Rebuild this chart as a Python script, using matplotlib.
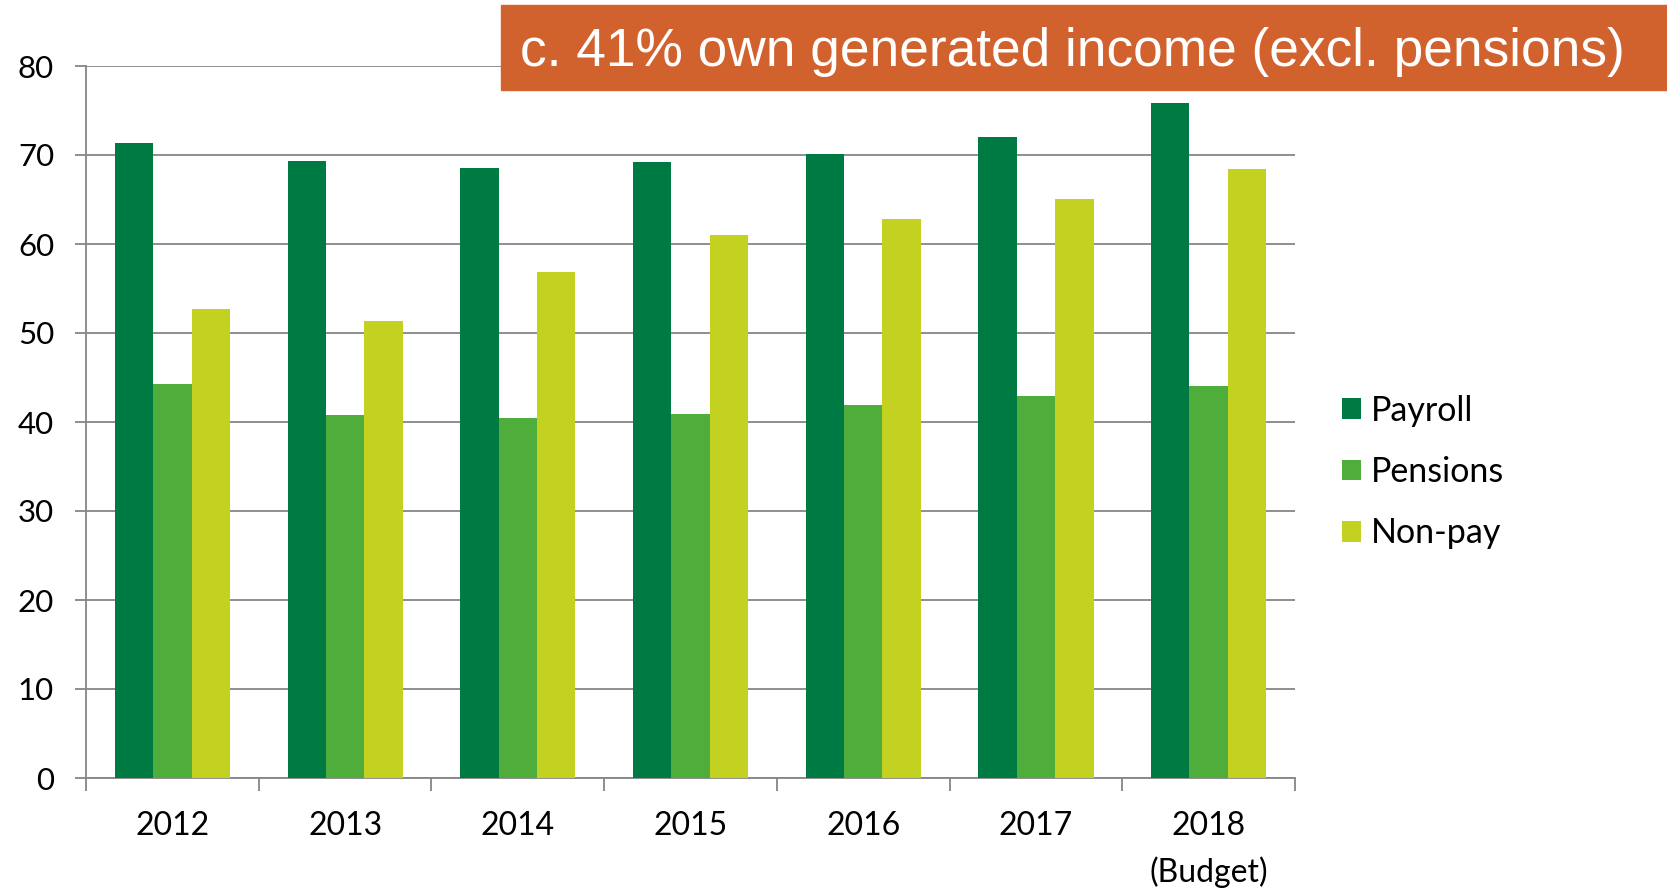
import matplotlib
matplotlib.use("Agg")
import matplotlib.pyplot as plt
import numpy as np
from matplotlib.patches import Rectangle

categories = ["2012", "2013", "2014", "2015", "2016", "2017", "2018\n(Budget)"]
series_names = ["Payroll", "Pensions", "Non-pay"]
payroll = [71.3, 69.3, 68.5, 69.2, 70.1, 72.0, 75.8]
pensions = [44.3, 40.8, 40.4, 40.9, 41.9, 42.9, 44.0]
nonpay = [52.7, 51.4, 56.9, 61.0, 62.8, 65.1, 68.4]
colors = ["#007A43", "#4EAD3B", "#C3D121"]
yticks = [0, 10, 20, 30, 40, 50, 60, 70, 80]
title_text = "c. 41% own generated income (excl. pensions)"

W, H = 1667, 890
fig = plt.figure(figsize=(W / 100, H / 100), dpi=100)
ax = fig.add_axes([86 / W, 1 - 778 / H, (1295 - 86) / W, (778 - 66) / H])

x = np.arange(len(categories))
bw = 1 / 4.5
for i, (vals, name, c) in enumerate(zip([payroll, pensions, nonpay], series_names, colors)):
    ax.bar(x + (i - 1) * bw, vals, width=bw, color=c, label=name, zorder=3,
           edgecolor="none")

ax.set_xlim(-0.5, len(categories) - 0.5)
ax.set_ylim(0, 80)
ax.set_yticks(yticks)
grid_col = "#868686"
ax.yaxis.grid(True, color=grid_col, linewidth=1.3, zorder=0)
ax.set_axisbelow(True)
for s in ["top", "right"]:
    ax.spines[s].set_visible(False)
for s in ["left", "bottom"]:
    ax.spines[s].set_color(grid_col)
    ax.spines[s].set_linewidth(1.3)

tick_font = "Lato"
ax.set_xticks(x)
ax.set_xticklabels(categories, fontfamily=tick_font, fontsize=23, linespacing=1.6)
ax.set_xticks(np.arange(-0.5, len(categories)), minor=True)
ax.tick_params(axis="x", which="major", length=0, pad=24)
ax.tick_params(axis="x", which="minor", length=9, width=1.3, color=grid_col, direction="out")
ax.tick_params(axis="y", length=8, width=1.3, color=grid_col, pad=15)
for lab in ax.get_yticklabels():
    lab.set_fontfamily(tick_font)
    lab.set_fontsize(22.5)

leg = ax.legend(loc="center left", bbox_to_anchor=(1311 / W, 1 - 472 / H),
                bbox_transform=fig.transFigure, frameon=False,
                prop={"family": tick_font, "size": 24.5},
                handlelength=0.56, handleheight=0.56, handletextpad=0.3,
                labelspacing=0.86)

fig.patches.append(Rectangle((501 / W, 1 - 90 / H), 1 - 501 / W, 85 / H,
                             transform=fig.transFigure, color="#D2622D", zorder=5))
fig.text(520 / W, 1 - 52 / H, title_text, transform=fig.transFigure,
         fontfamily="Liberation Sans", fontsize=38.3, color="white",
         ha="left", va="center", zorder=6)

fig.savefig("out.png", dpi=100)
